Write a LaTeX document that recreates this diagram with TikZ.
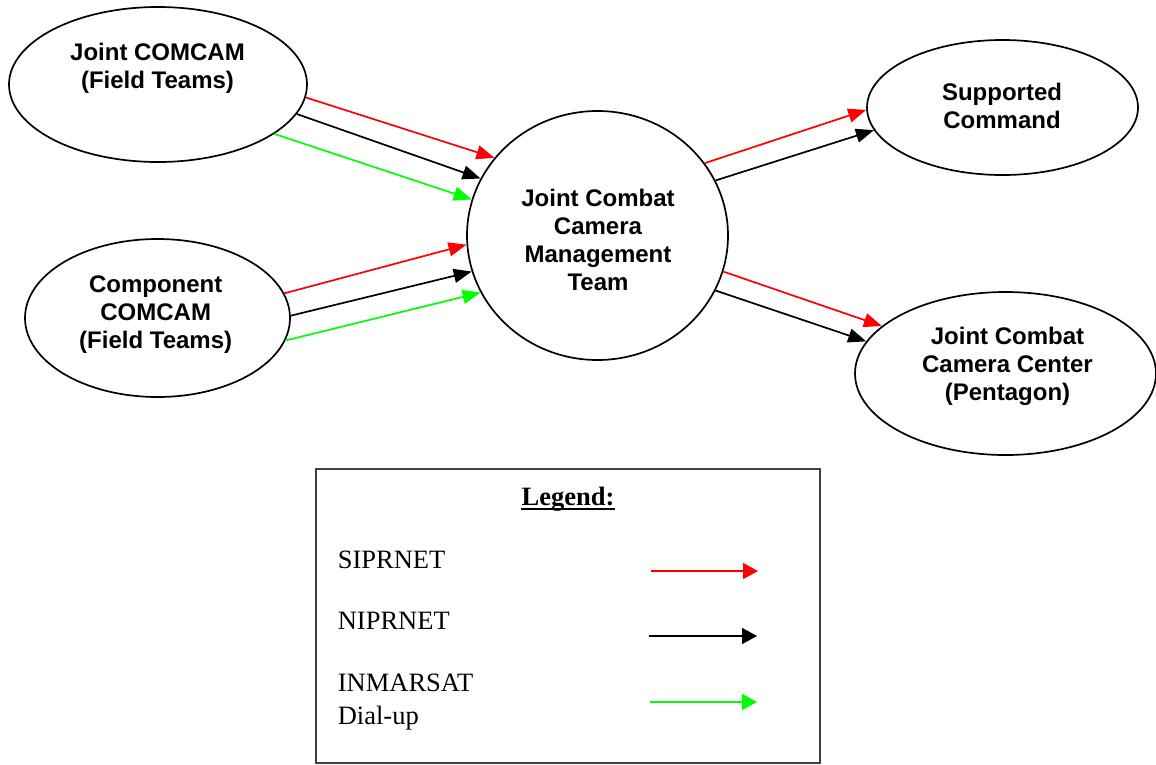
\documentclass[tikz,border=0pt]{standalone}
\usepackage{fontspec}
\setmainfont{Liberation Serif}
\setsansfont{Liberation Sans}
\usetikzlibrary{shapes.geometric,arrows.meta,positioning}
\definecolor{netgreen}{RGB}{0,255,0}
\definecolor{netred}{RGB}{255,0,0}

\begin{document}
\begin{tikzpicture}[x=1pt,y=-1pt,>={Triangle[length=18pt,width=14pt]},line width=1.7pt,
        main node/.style={ellipse,draw,line width=1.7pt,inner sep=0pt},
        main text/.style={align=center,inner sep=0pt,font=\sffamily\bfseries\fontsize{24}{28}\selectfont},
        key text/.style={anchor=base west,inner sep=0pt,font=\rmfamily\fontsize{26.5}{33}\selectfont},
        key arrow/.style={-{Triangle[length=15pt,width=16pt]}},
        sip/.style={->,color=netred},nip/.style={->,color=black},inm/.style={->,color=netgreen}]
                        \useasboundingbox (0,0) rectangle (1156,764);

                        \node[main node,minimum width=298,minimum height=155] (jc) at (158,84.5) {};
                        \node[main node,minimum width=265,minimum height=158] (cc) at (157.5,318) {};
                        \node[main node,minimum width=261,minimum height=249] (mt) at (597.5,235.5) {};
                        \node[main node,minimum width=271,minimum height=135] (sc) at (1002.5,107.5) {};
                        \node[main node,minimum width=301,minimum height=163] (pc) at (1005.5,373.5) {};

                        \node[main text] (jcText) at (157.5,68.5) {Joint COMCAM\\(Field Teams)};
                        \node[main text] (ccText) at (155.7,315) {Component\\COMCAM\\(Field Teams)};
                        \node[main text] (mtText) at (598,239.5) {Joint Combat\\Camera\\Management\\Team};
                        \node[main text] (scText) at (1002,106) {Supported\\Command};
                        \node[main text] (pcText) at (1007.5,366.5) {Joint Combat\\Camera Center\\(Pentagon)};

                        \path
                                (jc.355) edge[sip] (mt.143.6)
                                (jc.348) edge[nip] (mt.154.7)
                                (jc.337) edge[inm] (mt.164.1)

                                (cc.11) edge[sip] (mt.184.2)
                                (cc.1) edge[nip] (mt.196.6)
                                (cc.350) edge[inm] (mt.206.7)

                                (mt.34.8) edge[sip] (sc.181.5)
                                (mt.25.7) edge[nip] (sc.190.4)
                                (mt.344.9) edge[sip] (pc.159.4)
                                (mt.335.9) edge[nip] (pc.167.4)
                            ;

                        % legend
                        \draw[line width=1.8pt,color=black!75] (316,469) rectangle (820,763);
                        \node[inner sep=0pt,anchor=base,font=\rmfamily\bfseries\fontsize{26.5}{33}\selectfont] (lg) at (568,505) {Legend:};
                        \draw[line width=1.5pt] ([yshift=-4pt]lg.base west) -- ([yshift=-4pt]lg.base east);

                        \node[key text] (sipText) at (337,568.8) {SIPRNET};
                        \node[key text] (nipText) at (337,629.8) {NIPRNET};
                        \node[key text] (inmText) at (337,691.8) {INMARSAT};
                        \node[key text] (dialText) at (337,724) {Dial-up};

                        \coordinate (sipA) at (651,571);
                        \coordinate (sipB) at (758,571);
                        \coordinate (nipA) at (649,636);
                        \coordinate (nipB) at (757,636);
                        \coordinate (inmA) at (650,702);
                        \coordinate (inmB) at (757,702);
                        \path
                                (sipA) edge[sip,key arrow] (sipB)
                                (nipA) edge[nip,key arrow] (nipB)
                                (inmA) edge[inm,key arrow] (inmB)
                            ;
                    \end{tikzpicture}
\end{document}
